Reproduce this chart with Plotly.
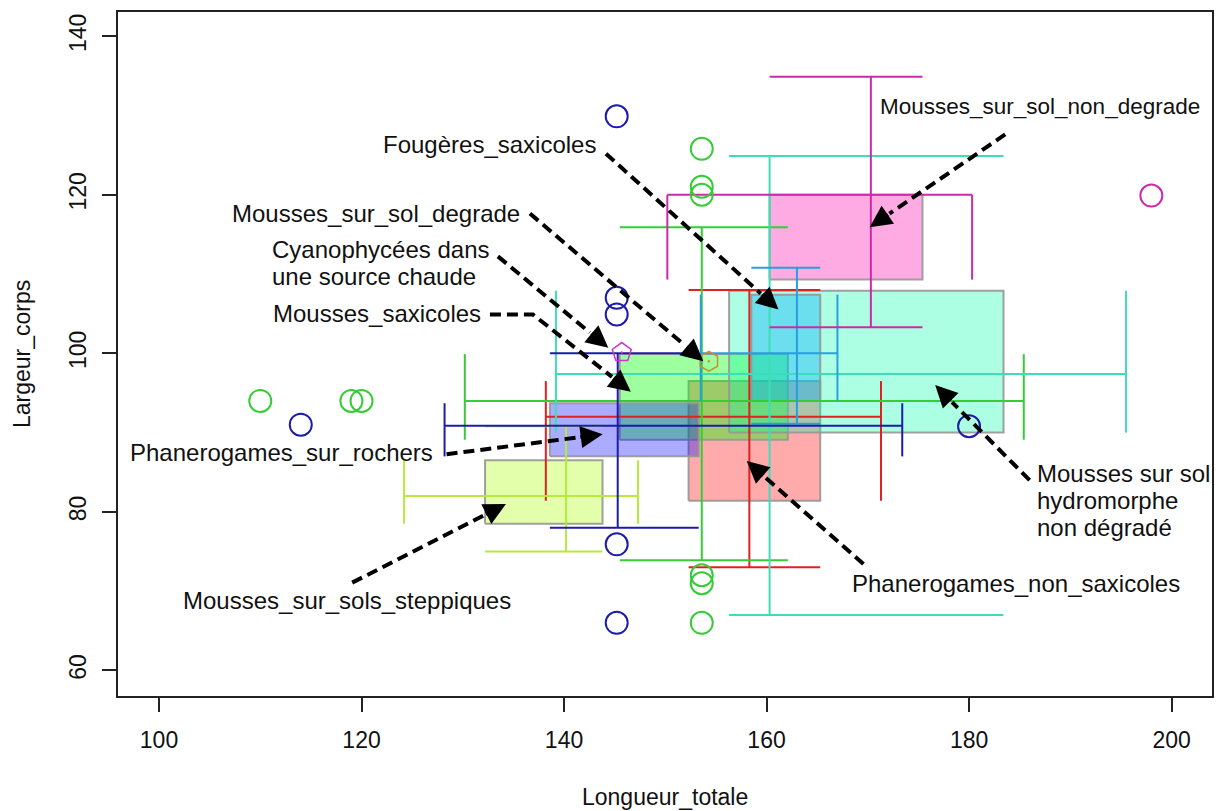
import plotly.graph_objects as go
import math

# ---------------- data ----------------
group_names = ["Phanerogames_non_saxicoles", "Mousses_sur_sols_steppiques",
               "Mousses_saxicoles", "Mousses sur sol hydromorphe non dégradé",
               "Fougères_saxicoles", "Phanerogames_sur_rochers",
               "Mousses_sur_sol_non_degrade"]
line_colors = ["#DE2222", "#B6EA3C", "#35CC35", "#3EDDB8", "#2A9EE0", "#1C1CA8", "#CC2AAA"]
fill_colors = ["rgba(255,0,0,0.33)", "rgba(170,255,0,0.33)", "rgba(0,255,0,0.38)",
               "rgba(0,255,170,0.32)", "rgba(0,170,255,0.38)", "rgba(0,0,255,0.33)",
               "rgba(255,0,170,0.33)"]

x_low = [138.2, 124.2, 130.2, 139.2, 153.5, 128.2, 150.2]
x_q1 = [152.3, 132.2, 145.5, 156.3, 158.5, 138.6, 160.3]
x_med = [158.3, 140.2, 153.6, 160.3, 163.0, 145.3, 170.3]
x_q3 = [165.3, 143.8, 162.1, 183.4, 165.3, 153.3, 175.4]
x_high = [171.3, 147.3, 185.4, 195.5, 167.0, 173.4, 180.3]

y_low = [73.0, 75.0, 73.9, 67.0, 91.1, 78.0, 103.3]
y_q1 = [81.4, 78.5, 89.1, 90.0, 94.0, 87.0, 109.3]
y_med = [92.0, 82.0, 94.0, 97.4, 100.0, 90.85, 120.0]
y_q3 = [96.5, 86.5, 99.9, 107.9, 107.4, 93.7, 120.0]
y_high = [108.0, 90.8, 115.9, 124.9, 110.8, 100.0, 134.9]

outlier_x = [[], [], [110, 119, 120, 153.6, 153.6, 153.6, 153.6, 153.6, 153.6], [], [],
             [145.2, 145.2, 145.2, 114, 180, 145.2, 145.2], [198]]
outlier_y = [[], [], [94, 94, 94, 125.8, 121.0, 120.0, 72.0, 71.0, 66.0], [], [],
             [129.9, 107.0, 104.9, 91.0, 90.8, 75.9, 66.0], [119.9]]

single_names = ["Cyanophycées dans une source chaude", "Mousses_sur_sol_degrade"]
single_x = [145.7, 154.3]
single_y = [100.1, 99.0]
single_symbols = ["pentagon-open-dot", "hexagon-open-dot"]
single_colors = ["#CC33CC", "#C89030"]

# labels: lines of text, position (of the middle of the block), anchor, size
label_lines = [["Mousses_sur_sol_non_degrade"], ["Fougères_saxicoles"],
               ["Mousses_sur_sol_degrade"], ["Cyanophycées dans", "une source chaude"],
               ["Mousses_saxicoles"], ["Phanerogames_sur_rochers"],
               ["Mousses_sur_sols_steppiques"], ["Phanerogames_non_saxicoles"],
               ["Mousses sur sol", "hydromorphe", "non dégradé"]]
label_x = [171.0, 143.35, 135.84, 110.94, 131.99, 127.25, 118.6, 168.25, 186.54]
label_y = [131.1, 126.32, 117.64, 111.35, 105.05, 87.43, 68.81, 70.95, 81.39]
label_anchor = ["left", "right", "right", "left", "right", "right", "center", "left", "left"]
label_size = [22.5, 24, 24, 24, 24, 24, 24, 24, 24]
arrow_paths = [
    [(183.57, 127.62), (170.18, 115.92)],
    [(144.14, 125.19), (161.18, 105.52)],
    [(136.63, 117.64), (153.76, 99.01)],
    [(133.47, 112.23), (144.37, 100.69)],
    [(132.68, 104.89), (136.93, 104.89), (146.6, 95.15)],
    [(128.40, 87.27), (143.81, 89.79)],
    [(119.08, 71.07), (134.26, 80.98)],
    [(169.57, 73.43), (158.04, 86.43)],
    [(185.98, 84.0), (176.65, 95.99)],
]

# ---------------- layout geometry ----------------
# the page body has an 8px margin, so the figure is drawn 8px in from the corner
W, H = 1218, 803
M_L, M_R, M_T, M_B = 110, 14, 2, 115
X_RANGE = [95.95, 203.99]
Y_RANGE = [56.77, 143.06]
px_x = (W - M_L - M_R) / (X_RANGE[1] - X_RANGE[0])
px_y = (H - M_T - M_B) / (Y_RANGE[1] - Y_RANGE[0])
LINE_GAP = 27  # px between lines of a multi-line label

FONT = "Liberation Sans, Arial, sans-serif"
FS_TICK = 23
FS_TITLE = 23
fig = go.Figure()

# boxes
for i, name in enumerate(group_names):
    fig.add_trace(go.Scatter(
        x=[x_q1[i], x_q3[i], x_q3[i], x_q1[i], x_q1[i]],
        y=[y_q1[i], y_q1[i], y_q3[i], y_q3[i], y_q1[i]],
        mode="lines", fill="toself", fillcolor=fill_colors[i],
        line=dict(color="rgba(150,150,150,0.9)", width=2),
        name=name, hoverinfo="name"))

# whiskers
for i, name in enumerate(group_names):
    xs = [x_low[i], x_high[i], None,
          x_low[i], x_low[i], None,
          x_high[i], x_high[i], None,
          x_med[i], x_med[i], None,
          x_q1[i], x_q3[i], None,
          x_q1[i], x_q3[i]]
    ys = [y_med[i], y_med[i], None,
          y_q1[i], y_q3[i], None,
          y_q1[i], y_q3[i], None,
          y_low[i], y_high[i], None,
          y_low[i], y_low[i], None,
          y_high[i], y_high[i]]
    fig.add_trace(go.Scatter(x=xs, y=ys, mode="lines",
                             line=dict(color=line_colors[i], width=2),
                             name=name, hoverinfo="name"))

# outliers
for i, name in enumerate(group_names):
    if outlier_x[i]:
        fig.add_trace(go.Scatter(x=outlier_x[i], y=outlier_y[i], mode="markers",
                                 marker=dict(symbol="circle-open", size=22,
                                             color=line_colors[i], line=dict(width=2)),
                                 name=name))

# single-observation groups
for i, name in enumerate(single_names):
    fig.add_trace(go.Scatter(x=[single_x[i]], y=[single_y[i]], mode="markers",
                             marker=dict(symbol=single_symbols[i], size=20,
                                         color=single_colors[i], line=dict(width=1.5)),
                             name=name))

# arrows: dashed body + arrow head annotation
HEAD_BACK = 24  # px
for path in arrow_paths:
    (tx, ty) = path[-1]
    (sx, sy) = path[-2]
    dxp = (sx - tx) * px_x
    dyp = (sy - ty) * px_y
    L = math.hypot(dxp, dyp)
    f = HEAD_BACK / L
    px_ = tx + (sx - tx) * f
    py_ = ty + (sy - ty) * f
    xs = [p[0] for p in path[:-1]] + [px_]
    ys = [p[1] for p in path[:-1]] + [py_]
    fig.add_trace(go.Scatter(x=xs, y=ys, mode="lines",
                             line=dict(color="black", width=4, dash="11px,6px"),
                             hoverinfo="skip"))
    fig.add_annotation(x=tx, y=ty, ax=px_, ay=py_, xref="x", yref="y",
                       axref="x", ayref="y", text="", showarrow=True,
                       arrowhead=2, arrowsize=1.1, arrowwidth=4, arrowcolor="black")

# label texts, one annotation per line
for lines, x, y, a, s in zip(label_lines, label_x, label_y, label_anchor, label_size):
    n = len(lines)
    for k, t in enumerate(lines):
        off = ((n - 1) / 2 - k) * LINE_GAP / px_y
        fig.add_annotation(x=x, y=y + off, xref="x", yref="y", text=t, showarrow=False,
                           xanchor=a, yanchor="middle",
                           font=dict(family=FONT, size=s, color="#111"))

# axis titles (page pixels -> figure pixels: minus the 8px body margin)
plot_h = H - M_T - M_B
plot_w = W - M_L - M_R
fig.add_annotation(text="Longueur_totale", xref="paper", yref="paper",
                   x=0.5, y=-((797 - 8) - (H - M_B)) / plot_h,
                   showarrow=False, xanchor="center", yanchor="middle",
                   font=dict(family=FONT, size=FS_TITLE, color="#111"))
fig.add_annotation(text="Largeur_corps", xref="paper", yref="paper",
                   x=((22 - 8) - M_L) / plot_w, y=0.5, textangle=-90,
                   showarrow=False, xanchor="center", yanchor="middle",
                   font=dict(family=FONT, size=FS_TITLE, color="#111"))

axis_common = dict(showline=True, mirror=True, linecolor="#222", linewidth=2,
                   ticks="outside", ticklen=14, tickwidth=1.5, tickcolor="#222",
                   showgrid=False, zeroline=False,
                   tickfont=dict(family=FONT, size=FS_TICK, color="#111"))
fig.update_xaxes(range=X_RANGE, tickvals=[100, 120, 140, 160, 180, 200],
                 ticklabelstandoff=8, **axis_common)
fig.update_yaxes(range=Y_RANGE, tickvals=[60, 80, 100, 120, 140], tickangle=-90,
                 ticklabelstandoff=7, **axis_common)

fig.update_layout(width=W, height=H, margin=dict(l=M_L, r=M_R, t=M_T, b=M_B),
                  plot_bgcolor="white", paper_bgcolor="white", showlegend=False)

fig.write_html("out.html")
